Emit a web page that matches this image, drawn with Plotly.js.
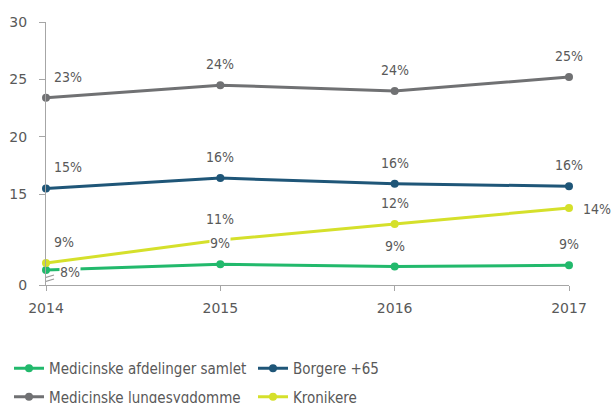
<!DOCTYPE html>
<html>
<head>
<meta charset="utf-8">
<script src="https://cdn.plot.ly/plotly-3.0.1.min.js"></script>
<style>html,body{margin:0;padding:0;background:#fff;}#chart{width:613px;height:403px;}</style>
</head>
<body>
<div id="chart"></div>
<script>
// ---- data ----
var years = [2014, 2015, 2016, 2017];
var seriesNames = ['Medicinske afdelinger samlet', 'Borgere +65', 'Medicinske lungesygdomme', 'Kronikere'];
// plotted positions on the (broken) axis
var afdelinger = [8.4, 8.9, 8.7, 8.8];
var borgere = [15.5, 16.4, 15.9, 15.7];
var lunge = [23.4, 24.5, 24.0, 25.2];
var kronikere = [9.0, 11.0, 12.4, 13.8];
// labels as shown
var afdelingerLbl = ['8%', '9%', '9%', '9%'];
var borgereLbl = ['15%', '16%', '16%', '16%'];
var lungeLbl = ['23%', '24%', '24%', '25%'];
var kronikereLbl = ['9%', '11%', '12%', '14%'];
var yTickVals = [7.09, 15, 20, 25, 30];
var yTickText = ['0', '15', '20', '25', '30'];

var colors = ['#22b96c', '#1f5678', '#707173', '#d5e02b'];
var values = [afdelinger, borgere, lunge, kronikere];
var labels = [afdelingerLbl, borgereLbl, lungeLbl, kronikereLbl];
var legendOf = ['legend', 'legend', 'legend2', 'legend2'];
var COND = 'DejaVu Sans Condensed, DejaVu Sans, sans-serif';
var WIDE = 'DejaVu Sans, sans-serif';
var TXT = '#595959';

var traces = values.map(function (v, i) {
  return {
    x: years, y: v, name: seriesNames[i], type: 'scatter', mode: 'lines+markers',
    line: {color: colors[i], width: 3}, marker: {color: colors[i], size: 8},
    cliponaxis: false, hoverinfo: 'skip', legend: legendOf[i]
  };
});

var annotations = [];
values.forEach(function (v, i) {
  v.forEach(function (y, j) {
    var a = {x: years[j], y: y, text: labels[i][j], showarrow: false,
      font: {family: COND, size: 14, color: TXT}, bgcolor: '#ffffff', borderpad: 0,
      xanchor: 'center', yanchor: 'middle', xshift: 0, yshift: 21};
    if (j === 0) { a.xanchor = 'left'; a.xshift = 7; }
    if (i === 0 && j === 0) { a.xanchor = 'left'; a.xshift = 13; a.yshift = -2; }
    if (i === 3 && j === 3) { a.xanchor = 'left'; a.xshift = 13; a.yshift = -1; }
    annotations.push(a);
  });
});

var breakShape = function (dy) {
  return {type: 'line', xref: 'x', yref: 'y', xsizemode: 'pixel', ysizemode: 'pixel',
    xanchor: 2014, yanchor: 7.09, x0: -9, x1: 8, y0: 5 + dy, y1: 10 + dy,
    line: {color: '#9a9a9a', width: 1.2}};
};

var legendBase = function (yTop) {
  return {orientation: 'h', xref: 'container', yref: 'container', x: 9 / 613, y: yTop,
    xanchor: 'left', yanchor: 'top', entrywidth: 199, traceorder: 'normal',
    font: {family: COND, size: 15, color: TXT}, bgcolor: 'rgba(0,0,0,0)'};
};

var layout = {
  width: 613, height: 403,
  margin: {l: 46, r: 44, t: 22, b: 118},
  paper_bgcolor: '#ffffff', plot_bgcolor: '#ffffff',
  font: {family: COND, color: TXT, size: 14},
  showlegend: true,
  xaxis: {range: [2014, 2017], tickvals: years, ticktext: years.map(String),
    showline: true, linecolor: '#a6a6a6', linewidth: 1, ticks: 'outside', ticklen: 5,
    tickcolor: '#a6a6a6', showgrid: false, zeroline: false, ticklabelstandoff: 5,
    tickfont: {family: WIDE, size: 14, color: TXT}},
  yaxis: {range: [7.09, 30], tickvals: yTickVals, ticktext: yTickText,
    showline: true, linecolor: '#a6a6a6', linewidth: 1, ticks: 'outside', ticklen: 6,
    tickcolor: '#a6a6a6', showgrid: false, zeroline: false, ticklabelstandoff: 9,
    tickfont: {family: WIDE, size: 14, color: TXT}},
  legend: legendBase(51 / 403),
  legend2: legendBase(22.5 / 403),
  annotations: annotations,
  shapes: [breakShape(0), breakShape(-4)]
};

Plotly.newPlot('chart', traces, layout, {displayModeBar: false, staticPlot: true});
</script>
</body>
</html>
